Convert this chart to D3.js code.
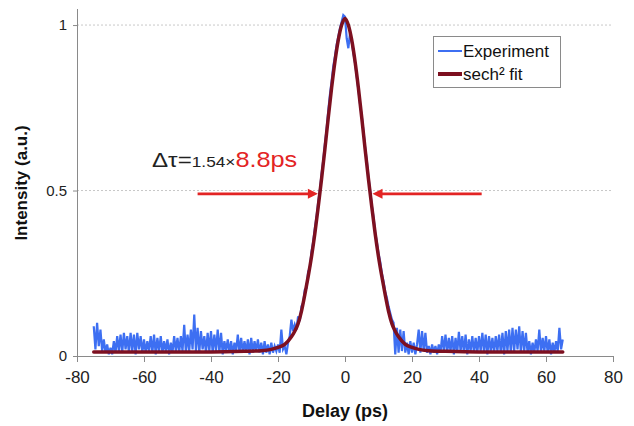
<!DOCTYPE html>
<html><head><meta charset="utf-8">
<script src="https://cdn.jsdelivr.net/npm/d3@7/dist/d3.min.js"></script>
<style>html,body{margin:0;padding:0;background:#fff;}svg{display:block;font-family:"Liberation Sans",Arial,sans-serif;}</style>
</head><body><svg id="c" width="634" height="426"></svg>
<script>
// ---- data ----
const xTicks = [-80, -60, -40, -20, 0, 20, 40, 60, 80];
const yTicks = [0, 0.5, 1];
const yTickLabels = ["0", "0.5", "1"];
const xLabel = "Delay (ps)";
const yLabel = "Intensity (a.u.)";
const seriesNames = ["Experiment", "sech² fit"];

// Experiment: intensity sampled every 0.5 ps starting at -75 ps
const expStart = -75, expStep = 0.5;
const expValues = [
  0.090,0.020,0.100,0.030,0.080,0.015,0.050,0.010,0.035,0.005,
  0.025,0.005,0.045,0.010,0.060,0.015,0.065,0.010,0.070,0.020,
  0.060,0.010,0.070,0.015,0.065,0.005,0.070,0.020,0.060,0.010,
  0.050,0.010,0.045,0.015,0.060,0.010,0.065,0.005,0.055,0.015,
  0.060,0.010,0.045,0.015,0.050,0.005,0.040,0.010,0.060,0.015,
  0.055,0.010,0.060,0.015,0.094,0.010,0.065,0.015,0.080,0.020,
  0.125,0.015,0.085,0.010,0.075,0.020,0.060,0.010,0.070,0.015,
  0.075,0.010,0.065,0.015,0.080,0.010,0.070,0.005,0.045,0.015,
  0.050,0.010,0.045,0.005,0.040,0.015,0.065,0.010,0.055,0.010,
  0.045,0.010,0.050,0.005,0.055,0.010,0.045,0.015,0.050,0.010,
  0.040,0.005,0.045,0.010,0.035,0.005,0.040,0.010,0.030,0.015,
  0.035,0.010,0.080,0.020,0.030,0.005,0.040,0.060,0.110,0.075,
  0.095,0.080,0.120,0.105,0.150,0.160,0.200,0.205,0.255,0.265,
  0.315,0.345,0.385,0.420,0.465,0.500,0.550,0.590,0.640,0.685,
  0.740,0.790,0.830,0.875,0.905,0.940,0.965,0.990,1.010,1.030,
  1.025,0.960,0.930,0.975,0.950,0.915,0.885,0.845,0.805,0.760,
  0.725,0.680,0.630,0.590,0.540,0.500,0.455,0.420,0.375,0.345,
  0.310,0.285,0.250,0.225,0.195,0.175,0.150,0.130,0.110,0.100,
  0.005,0.085,0.010,0.080,0.015,0.075,0.010,0.040,0.005,0.045,
  0.010,0.040,0.005,0.035,0.080,0.010,0.075,0.015,0.070,0.010,
  0.030,0.005,0.035,0.010,0.030,0.005,0.035,0.010,0.060,0.015,
  0.065,0.010,0.055,0.015,0.060,0.005,0.055,0.010,0.073,0.015,
  0.060,0.010,0.065,0.005,0.050,0.015,0.060,0.010,0.055,0.010,
  0.060,0.015,0.070,0.010,0.065,0.005,0.060,0.015,0.055,0.010,
  0.060,0.015,0.065,0.010,0.070,0.005,0.075,0.015,0.080,0.010,
  0.085,0.015,0.080,0.020,0.090,0.010,0.075,0.015,0.070,0.010,
  0.045,0.005,0.040,0.010,0.050,0.015,0.080,0.010,0.055,0.015,
  0.060,0.010,0.050,0.005,0.040,0.010,0.045,0.015,0.085,0.020,
  0.050
];

// sech² fit
const fitDelay = [-75,-40,-30,-25,-22,-20,-18,-16,-15,-14,-13,-12,-11,-10,-9,-8,-7,-6,-5,-4,-3,-2,-1,0,
                  1,2,3,4,5,6,7,8,9,10,11,12,13,14,15,16,18,20,22,25,30,40,65];
const fitValue = [0.012,0.012,0.014,0.016,0.020,0.026,0.035,0.058,0.075,0.098,0.135,0.185,0.24,0.30,0.37,0.45,0.535,0.625,0.72,0.81,0.89,0.955,1.00,1.02,
                  1.00,0.955,0.89,0.81,0.72,0.625,0.535,0.45,0.37,0.30,0.24,0.185,0.135,0.098,0.075,0.058,0.035,0.026,0.020,0.016,0.014,0.012,0.012];

// FWHM annotation arrows (delay from, delay to, level)
const arrowLevel = 0.49;
const arrowLeft = [-44, -8.1];
const arrowRight = [40.8, 8.2];
const annotationParts = ["Δτ=", "1.54×", "8.8ps"];

// ---- drawing ----
const svg = d3.select("#c");
const x = d3.scaleLinear().domain([-80, 80]).range([77, 613]);
const y = d3.scaleLinear().domain([0, 1.05]).range([356, 8.5]);
const grey = "#8a8a8a";
const font = "Liberation Sans, Arial, sans-serif";

// gridlines
svg.append("g").selectAll("line").data(yTicks.filter(d => d > 0)).join("line")
  .attr("x1", x(-80)).attr("x2", x(80)).attr("y1", d => y(d)).attr("y2", d => y(d))
  .attr("stroke", "#c8c8c8").attr("stroke-width", 1).attr("stroke-dasharray", "2,2");

// x axis
const xAxis = svg.append("g").attr("transform", `translate(0,${y(0)})`)
  .call(d3.axisBottom(x).tickValues(xTicks).tickFormat(d => String(d)).tickSizeInner(6).tickSizeOuter(0).tickPadding(9));
xAxis.select(".domain").attr("stroke", grey);
xAxis.selectAll(".tick line").attr("stroke", grey);
xAxis.selectAll("text").attr("font-size", 17).attr("fill", "#222").attr("font-family", font);

// y axis
const yAxis = svg.append("g").attr("transform", `translate(${x(-80)},0)`)
  .call(d3.axisLeft(y).tickValues(yTicks).tickFormat((d, i) => yTickLabels[i]).tickSizeInner(4).tickSizeOuter(0).tickPadding(6));
yAxis.select(".domain").attr("stroke", grey);
yAxis.selectAll(".tick line").attr("stroke", grey);
yAxis.selectAll("text").attr("font-size", 15).attr("fill", "#222").attr("font-family", font);

// axis titles
svg.append("text").attr("x", x(0)).attr("y", 417).attr("text-anchor", "middle")
  .attr("font-size", 18).attr("font-weight", "bold").attr("fill", "#111").text(xLabel);
svg.append("text").attr("transform", "translate(27,183) rotate(-90)").attr("text-anchor", "middle")
  .attr("font-size", 17).attr("font-weight", "bold").attr("fill", "#111").text(yLabel);

// experiment
const expData = expValues.map((v, i) => [expStart + i * expStep, v]);
svg.append("path").datum(expData)
  .attr("d", d3.line().x(d => x(d[0])).y(d => y(d[1])))
  .attr("fill", "none").attr("stroke", "#3d6ff2").attr("stroke-width", 2.2).attr("stroke-linejoin", "miter");

// fit
const fitData = fitDelay.map((t, i) => [t, fitValue[i]]);
svg.append("path").datum(fitData)
  .attr("d", d3.line().curve(d3.curveMonotoneX).x(d => x(d[0])).y(d => y(d[1])))
  .attr("fill", "none").attr("stroke", "#7d1020").attr("stroke-width", 3.5).attr("stroke-linecap", "round");

// arrows
const red = "#e32424";
function arrow(from, to) {
  const x0 = x(from), x1 = x(to), yy = y(arrowLevel);
  const dir = Math.sign(x1 - x0);
  svg.append("line").attr("x1", x0).attr("x2", x1 - dir * 8).attr("y1", yy).attr("y2", yy)
    .attr("stroke", red).attr("stroke-width", 2.6);
  svg.append("path").attr("d", `M${x1},${yy} L${x1 - dir * 10},${yy - 5} L${x1 - dir * 10},${yy + 5} Z`).attr("fill", red);
}
arrow(arrowLeft[0], arrowLeft[1]);
arrow(arrowRight[0], arrowRight[1]);

// annotation
const ann = svg.append("text").attr("transform", "translate(152,167) scale(1.15,1)").attr("fill", "#222");
ann.append("tspan").attr("font-size", 21).text(annotationParts[0]);
ann.append("tspan").attr("font-size", 15).text(annotationParts[1]);
ann.append("tspan").attr("font-size", 22).attr("fill", red).text(annotationParts[2]);

// legend
const lg = svg.append("g");
lg.append("rect").attr("x", 433.5).attr("y", 36.5).attr("width", 127).attr("height", 51)
  .attr("fill", "#fff").attr("stroke", "#8a8a8a").attr("stroke-width", 1);
const legendColors = ["#3d6ff2", "#7d1020"], legendWidths = [2, 4], legendY = [51, 74];
seriesNames.forEach((n, i) => {
  lg.append("line").attr("x1", 438).attr("x2", 462).attr("y1", legendY[i]).attr("y2", legendY[i])
    .attr("stroke", legendColors[i]).attr("stroke-width", legendWidths[i]);
  lg.append("text").attr("x", 463).attr("y", legendY[i] + 6).attr("font-size", 17).attr("fill", "#111").text(n);
});
</script></body></html>
